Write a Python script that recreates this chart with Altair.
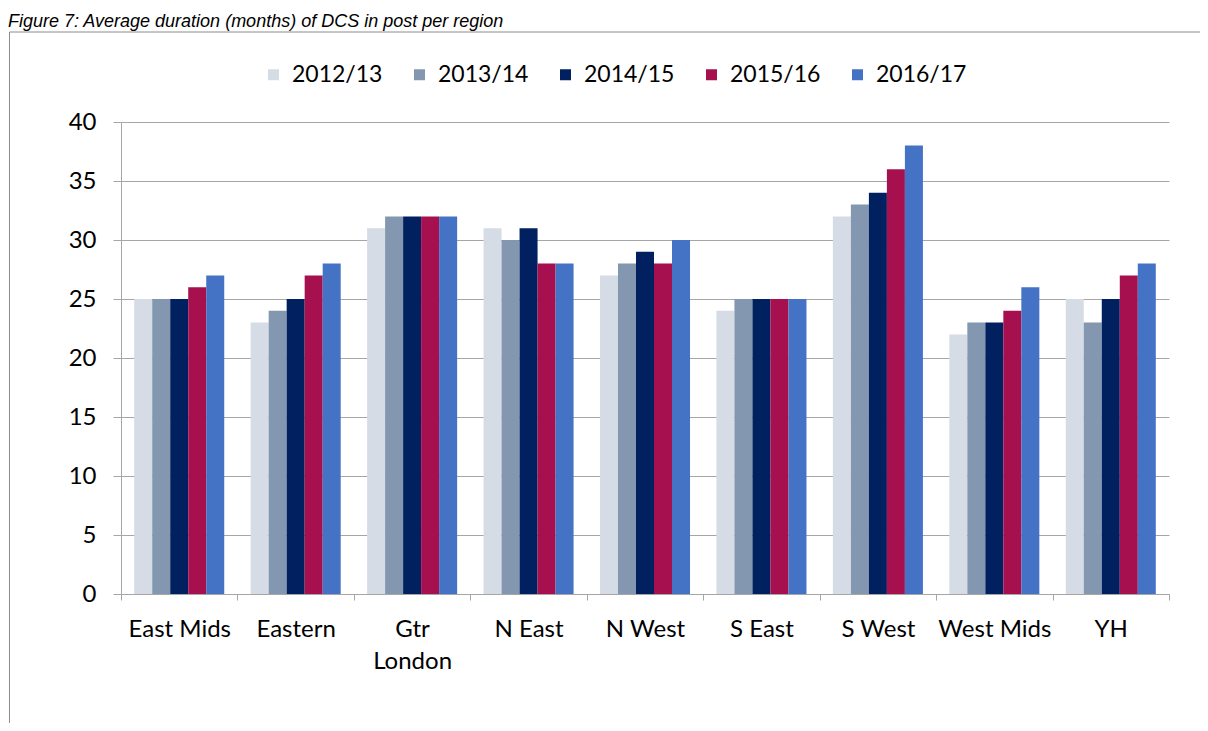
import altair as alt
import pandas as pd

regions = ["East Mids", "Eastern", "Gtr London", "N East", "N West",
           "S East", "S West", "West Mids", "YH"]
years = ["2012/13", "2013/14", "2014/15", "2015/16", "2016/17"]
v2012_13 = [25, 23, 31, 31, 27, 24, 32, 22, 25]
v2013_14 = [25, 24, 32, 30, 28, 25, 33, 23, 23]
v2014_15 = [25, 25, 32, 31, 29, 25, 34, 23, 25]
v2015_16 = [26, 27, 32, 28, 28, 25, 36, 24, 27]
v2016_17 = [27, 28, 32, 28, 30, 25, 38, 26, 28]
colors = ["#D6DCE5", "#8497B0", "#002060", "#A6104E", "#4472C4"]
y_ticks = [0, 5, 10, 15, 20, 25, 30, 35, 40]
title_text = "Figure 7: Average duration (months) of DCS in post per region"

series = [v2012_13, v2013_14, v2014_15, v2015_16, v2016_17]
rows = []
for i, r in enumerate(regions):
    for yr, vals in zip(years, series):
        rows.append({"region": r, "year": yr, "value": vals[i]})
df = pd.DataFrame(rows)
dummy = pd.DataFrame({"d": [0]})

FONT = "Lato"
GRID = "#A6A6A6"

bars = alt.Chart(df).mark_bar().encode(
    x=alt.X("region:N", sort=regions, title=None,
            scale=alt.Scale(paddingInner=0, paddingOuter=0),
            axis=alt.Axis(labelAngle=0, tickBand="extent", tickSize=6,
                          labelPadding=17, labelFontSize=24, labelFont=FONT,
                          labelColor="black", domainColor=GRID, tickColor=GRID,
                          labelExpr="datum.value == 'Gtr London' ? ['Gtr', 'London'] : datum.value",
                          labelLineHeight=32, grid=False)),
    xOffset=alt.XOffset("year:N", sort=years,
                        scale=alt.Scale(paddingInner=0, paddingOuter=0.733)),
    y=alt.Y("value:Q", title=None,
            scale=alt.Scale(domain=[0, 40], nice=False),
            axis=alt.Axis(values=y_ticks, grid=True, gridColor=GRID, tickColor=GRID,
                          domainColor=GRID, tickSize=8, labelPadding=17,
                          labelFontSize=24, labelFont=FONT, labelColor="black")),
    color=alt.Color("year:N", sort=years,
                    scale=alt.Scale(domain=years, range=colors),
                    legend=alt.Legend(title=None, orient="none", legendX=141, legendY=-59,
                                      direction="horizontal", symbolType="square",
                                      symbolSize=121, symbolStrokeWidth=0,
                                      labelFontSize=23, labelFont=FONT, labelColor="black",
                                      labelOffset=7, columnPadding=25, padding=0)),
)

frame_top = alt.Chart(dummy).mark_rule(color="#8C8C8C", strokeWidth=1).encode(
    x=alt.value(-111.5), x2=alt.value(1079), y=alt.value(-90))
frame_left = alt.Chart(dummy).mark_rule(color="#8C8C8C", strokeWidth=1).encode(
    x=alt.value(-111.5), y=alt.value(-90), y2=alt.value(601))
title = alt.Chart(dummy).mark_text(text=title_text, align="left", baseline="alphabetic",
                                   font="Liberation Sans", fontStyle="italic",
                                   fontSize=18, color="black").encode(
    x=alt.value(-113), y=alt.value(-95))

chart = alt.layer(frame_top, frame_left, title, bars).properties(
    width=1048, height=472,
    padding={"left": 113, "top": 114, "right": 31, "bottom": 129},
    autosize=alt.AutoSizeParams(type="none"),
).configure_view(stroke=None)

chart.save("out.html", embed_options={"renderer": "svg", "actions": False})
